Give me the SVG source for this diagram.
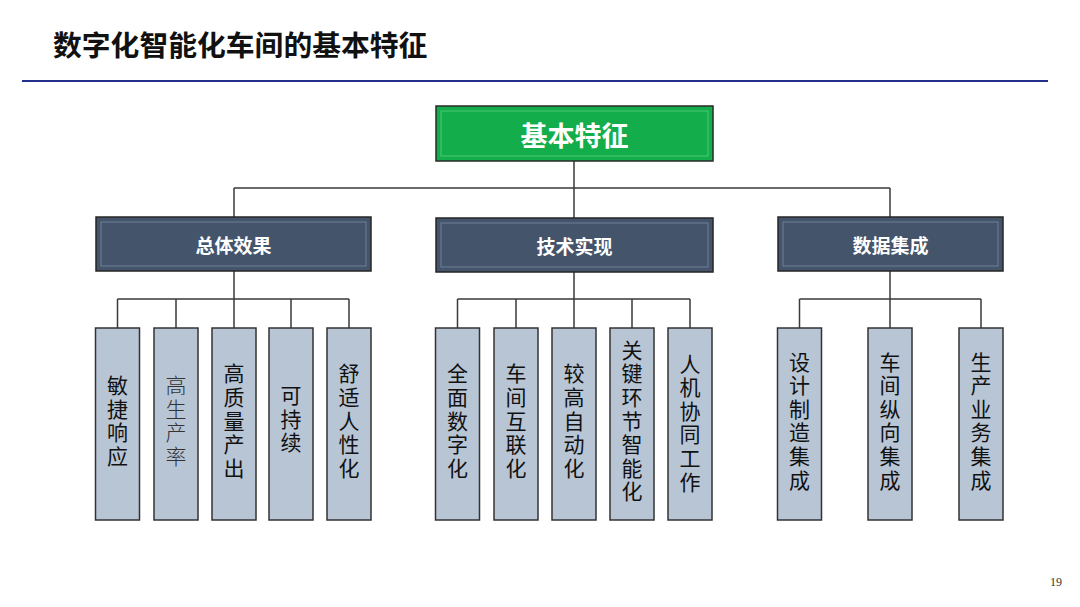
<svg xmlns="http://www.w3.org/2000/svg" width="1080" height="607" viewBox="0 0 1080 607">
<style>
.t{font-family:"Noto Sans CJK SC","Liberation Sans",sans-serif}
.title{font-size:28.8px;font-weight:bold;fill:#111}
.top{fill:#13ae4b;stroke:#2a2a2a;stroke-width:1.5}
.topin{fill:none;stroke:#4cc776;stroke-width:1}
.toptxt{font-size:27px;font-weight:bold;fill:#fff}
.mid{fill:#44546a;stroke:#262626;stroke-width:1.5}
.midin{fill:none;stroke:#6c7f98;stroke-width:1}
.midtxt{font-size:19px;font-weight:bold;fill:#fff}
.leaf{fill:#b8c5d5;stroke:#333;stroke-width:1.5}
.leaftxt{font-size:21px;fill:#111;writing-mode:vertical-rl;letter-spacing:2.6px}
.conn{fill:none;stroke:#3a3a3a;stroke-width:1.5}
</style>
<rect width="1080" height="607" fill="#fff"/>
<text class="t title" x="53" y="56">数字化智能化车间的基本特征</text>
<line x1="22" y1="81" x2="1048" y2="81" stroke="#22308c" stroke-width="2"/>
<g id="connectors">
<path class="conn" d="M574 161V218M234 188H890M234 188V217M890 188V217"/>
<path class="conn" d="M234 271V299M117.5 299H349M117.5 299V328M176 299V328M234 299V328M291 299V328M349 299V328"/>
<path class="conn" d="M574 272V299M457.5 299H690M457.5 299V328M516 299V328M574 299V328M632 299V328M690 299V328"/>
<path class="conn" d="M890 271V299M799.5 299H981M799.5 299V328M890 299V328M981 299V328"/>
</g>
<g id="n-root">
<rect class="top" x="436" y="106" width="277" height="55"/>
<rect class="topin" x="441" y="111" width="267" height="45"/>
<text class="t toptxt" x="574.5" y="134" text-anchor="middle" dominant-baseline="central">基本特征</text>
</g>
<g id="n-effect">
<rect class="mid" x="96" y="217" width="275" height="54"/>
<rect class="midin" x="101" y="222" width="265" height="44"/>
<text class="t midtxt" x="233.5" y="244" text-anchor="middle" dominant-baseline="central">总体效果</text>
</g>
<g id="n-tech">
<rect class="mid" x="436" y="218" width="277" height="54"/>
<rect class="midin" x="441" y="223" width="267" height="44"/>
<text class="t midtxt" x="574.5" y="245" text-anchor="middle" dominant-baseline="central">技术实现</text>
</g>
<g id="n-data">
<rect class="mid" x="778" y="217" width="225" height="54"/>
<rect class="midin" x="783" y="222" width="215" height="44"/>
<text class="t midtxt" x="890.5" y="244" text-anchor="middle" dominant-baseline="central">数据集成</text>
</g>
<g id="l1"><rect class="leaf" x="95.5" y="328" width="44" height="192"/>
<text class="t leaftxt" x="117.5" y="422" text-anchor="middle">敏捷响应</text></g>
<g id="l2"><rect class="leaf" x="154" y="328" width="44" height="192"/>
<text class="t leaftxt" x="176" y="422" text-anchor="middle" style="font-weight:300;fill:#333">高生产率</text></g>
<g id="l3"><rect class="leaf" x="212" y="328" width="44" height="192"/>
<text class="t leaftxt" x="234" y="422" text-anchor="middle">高质量产出</text></g>
<g id="l4"><rect class="leaf" x="269" y="328" width="44" height="192"/>
<text class="t leaftxt" x="291" y="420" text-anchor="middle">可持续</text></g>
<g id="l5"><rect class="leaf" x="327" y="328" width="44" height="192"/>
<text class="t leaftxt" x="349" y="422" text-anchor="middle">舒适人性化</text></g>
<g id="l6"><rect class="leaf" x="435.5" y="328" width="44" height="192"/>
<text class="t leaftxt" x="457.5" y="422" text-anchor="middle">全面数字化</text></g>
<g id="l7"><rect class="leaf" x="494" y="328" width="44" height="192"/>
<text class="t leaftxt" x="516" y="422" text-anchor="middle">车间互联化</text></g>
<g id="l8"><rect class="leaf" x="552" y="328" width="44" height="192"/>
<text class="t leaftxt" x="574" y="422" text-anchor="middle">较高自动化</text></g>
<g id="l9"><rect class="leaf" x="610" y="328" width="44" height="192"/>
<text class="t leaftxt" x="632" y="422" text-anchor="middle">关键环节智能化</text></g>
<g id="l10"><rect class="leaf" x="668" y="328" width="44" height="192"/>
<text class="t leaftxt" x="690" y="424" text-anchor="middle">人机协同工作</text></g>
<g id="l11"><rect class="leaf" x="777.5" y="328" width="44" height="192"/>
<text class="t leaftxt" x="799.5" y="422" text-anchor="middle">设计制造集成</text></g>
<g id="l12"><rect class="leaf" x="868" y="328" width="44" height="192"/>
<text class="t leaftxt" x="890" y="422" text-anchor="middle">车间纵向集成</text></g>
<g id="l13"><rect class="leaf" x="959" y="328" width="44" height="192"/>
<text class="t leaftxt" x="981" y="422" text-anchor="middle">生产业务集成</text></g>
<text x="1056" y="586" text-anchor="middle" font-family="Liberation Serif,serif" font-size="12" fill="#333">19</text>
</svg>
